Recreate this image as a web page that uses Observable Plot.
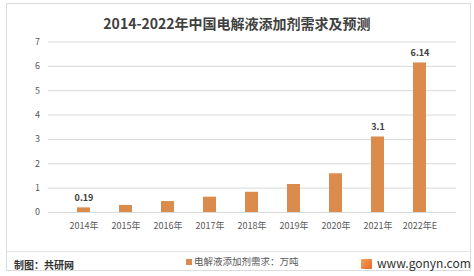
<!DOCTYPE html>
<html><head><meta charset="utf-8">
<script src="https://cdn.jsdelivr.net/npm/d3@7"></script>
<script src="https://cdn.jsdelivr.net/npm/@observablehq/plot@0.6"></script>
<style>
html,body{margin:0;padding:0;background:#fff;}
body{width:474px;height:276px;position:relative;overflow:hidden;font-family:"Noto Sans CJK SC","Noto Sans",sans-serif;}
#frame{position:absolute;left:6px;top:3px;width:465px;height:268px;border:1px solid #dcdcdc;box-sizing:border-box;}
#sep{position:absolute;left:7px;top:251px;width:463px;height:1px;background:#e4e4e4;}
#title{position:absolute;left:0;width:474px;top:13px;text-align:center;font-size:14px;font-weight:bold;color:#404040;line-height:20px;}
#chart{position:absolute;left:0;top:0;}
#src{position:absolute;left:14px;top:257px;font-size:10px;font-weight:bold;color:#333;line-height:16px;}
#legend{position:absolute;left:186px;top:253px;font-size:9.5px;color:#595959;line-height:16px;}
#legend i{display:inline-block;width:6px;height:6px;background:#DB8C4C;margin-right:2px;vertical-align:0px;}
#site{position:absolute;left:361px;top:255px;font-size:12px;color:#333;line-height:16px;}
#site i{display:inline-block;width:11px;height:10px;background:linear-gradient(135deg,#f4a25a,#e8672c);margin-right:5px;vertical-align:-1px;border-radius:1px;}
</style></head>
<body>
<div id="frame"></div>
<div id="sep"></div>
<div id="chart"></div>
<div id="title">2014-2022年中国电解液添加剂需求及预测</div>
<div id="src">制图：共研网</div>
<div id="legend"><i></i>电解液添加剂需求：万吨</div>
<div id="site"><i></i>www.gonyn.com</div>
<script>
const years = ["2014年","2015年","2016年","2017年","2018年","2019年","2020年","2021年","2022年E"];
const demand = [0.19, 0.29, 0.45, 0.63, 0.83, 1.15, 1.59, 3.1, 6.14];
const labels = ["0.19", null, null, null, null, null, null, "3.1", "6.14"];
const yTicks = [0,1,2,3,4,5,6,7];

const data = years.map((y,i)=>({year:y, value:demand[i], label:labels[i]}));

const chart = Plot.plot({
  width: 474,
  height: 276,
  marginLeft: 48,
  marginRight: 18,
  marginTop: 41.5,
  marginBottom: 64,
  style: {fontFamily: '"Noto Sans CJK SC","Noto Sans",sans-serif', background: "transparent"},
  x: {domain: years, padding: 0.68, label: null},
  y: {domain: [0,7], ticks: yTicks, label: null},
  marks: [
    Plot.gridY(yTicks, {stroke: "#d9d9d9", strokeOpacity: 1, strokeWidth: 1}),
    Plot.axisY(yTicks, {tickSize: 0, tickPadding: 8, fontSize: 9, fill: "#595959", label: null, textAnchor: "middle", dx: -3}),
    Plot.axisX({tickSize: 0, tickPadding: 10, fontSize: 9, fill: "#595959", label: null}),
    Plot.barY(data, {x: "year", y: "value", fill: "#DB8C4C"}),
    Plot.text(data.filter(d => d.label), {x: "year", y: "value", text: "label", dy: -10, fontSize: 9, fontWeight: "bold", fill: "#404040"})
  ]
});
document.getElementById("chart").appendChild(chart);
</script>
</body></html>
